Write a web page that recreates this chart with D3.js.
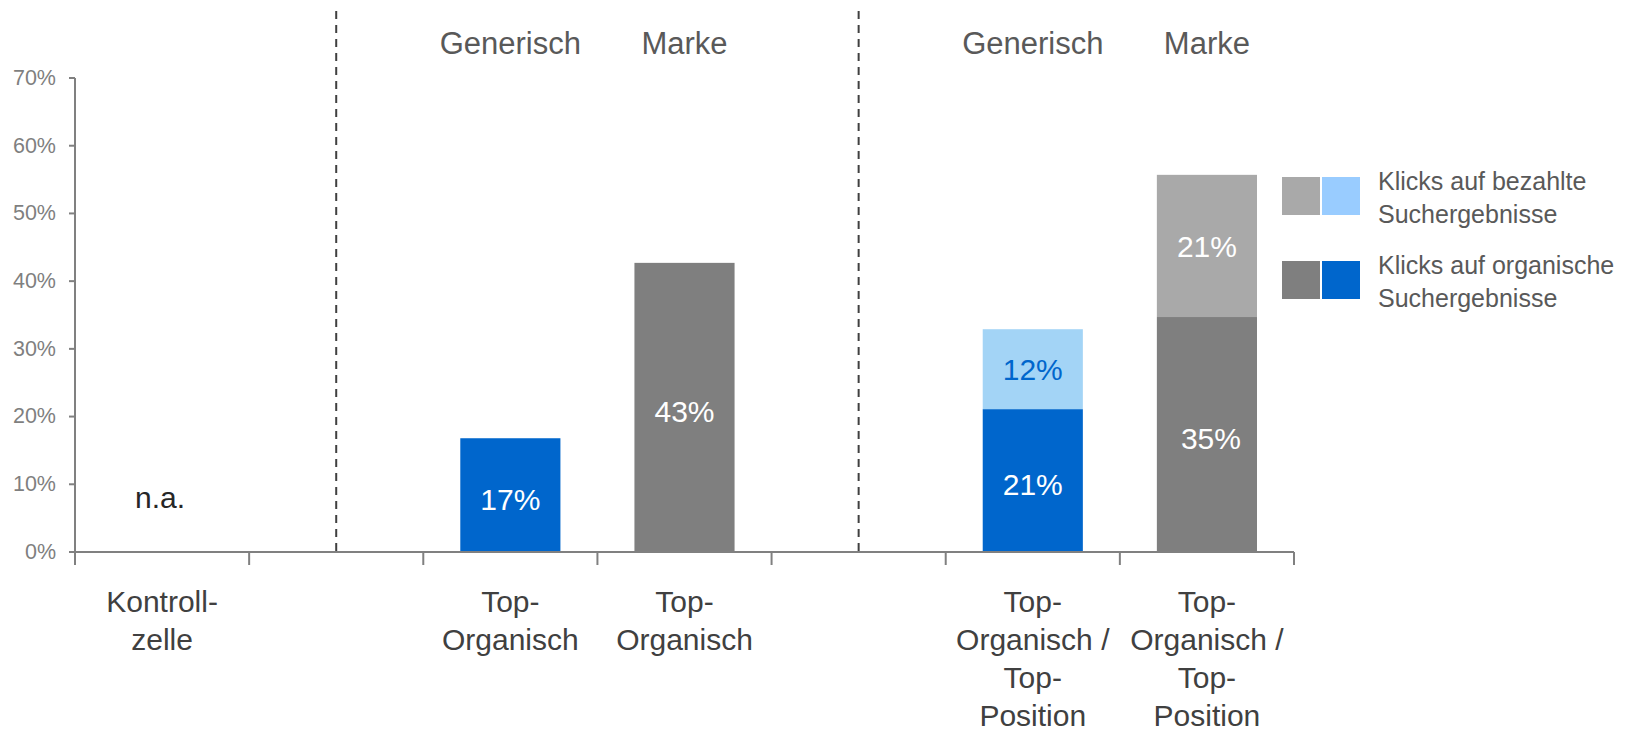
<!DOCTYPE html>
<html>
<head>
<meta charset="utf-8">
<script src="https://cdn.jsdelivr.net/npm/d3@7"></script>
<style>
  body { margin: 0; background: #fff; }
  svg text { font-family: "Liberation Sans", Arial, sans-serif; }
</style>
</head>
<body>
<svg id="chart" width="1633" height="734"></svg>
<script>
// data
var categories = ["kontrolle", "leer1", "gen1", "marke1", "leer2", "gen2", "marke2"];
var catLabels = [["Kontroll-", "zelle"], [], ["Top-", "Organisch"], ["Top-", "Organisch"], [],
  ["Top-", "Organisch /", "Top-", "Position"], ["Top-", "Organisch /", "Top-", "Position"]];
var headerLabels = ["", "", "Generisch", "Marke", "", "Generisch", "Marke"];
var barType = ["", "", "generisch", "marke", "", "generisch", "marke"];
var organisch = [null, null, 16.8, 42.7, null, 21.1, 34.7];
var bezahlt = [null, null, 0, 0, null, 11.8, 21.0];
var naCategory = "kontrolle";
var dividerCats = ["leer1", "leer2"];
var yTicks = [0, 10, 20, 30, 40, 50, 60, 70];
var legendLabels = [["Klicks auf bezahlte", "Suchergebnisse"], ["Klicks auf organische", "Suchergebnisse"]];

var colors = {
  generisch: { organisch: "#0066cc", bezahlt: "#a3d4f6", labelOrg: "#fff", labelBez: "#0066cc" },
  marke: { organisch: "#7f7f7f", bezahlt: "#a9a9a9", labelOrg: "#fff", labelBez: "#fff" }
};
var legendColors = [["#a9a9a9", "#99ccff"], ["#7f7f7f", "#0066cc"]];

var svg = d3.select("#chart");
var plotLeft = 75, plotRight = 1294, plotTop = 78, plotBottom = 552;

// scales
var x = d3.scaleBand().domain(categories).range([plotLeft, plotRight]).padding(0);
var xEdge = d3.scaleLinear().domain([0, categories.length]).range([plotLeft, plotRight]);
var y = d3.scaleLinear().domain([0, 70]).range([plotBottom, plotTop]);
var barW = x.bandwidth() * 0.575;

// dashed group dividers
svg.selectAll(".divider")
  .data(dividerCats)
  .enter().append("line")
  .attr("x1", function(d) { return x(d) + x.bandwidth() / 2; })
  .attr("x2", function(d) { return x(d) + x.bandwidth() / 2; })
  .attr("y1", 11)
  .attr("y2", plotBottom)
  .attr("stroke", "#404040")
  .attr("stroke-width", 2)
  .attr("stroke-dasharray", "8,6");

// build stacked rows
var rows = categories.map(function(c, i) {
  return { cat: c, type: barType[i], org: organisch[i], bez: bezahlt[i] };
}).filter(function(d) { return d.org != null; });

var bars = svg.append("g");
rows.forEach(function(d) {
  var cx = x(d.cat) + x.bandwidth() / 2;
  var col = colors[d.type];
  bars.append("rect")
    .attr("x", cx - barW / 2)
    .attr("width", barW)
    .attr("y", y(d.org))
    .attr("height", y(0) - y(d.org))
    .attr("fill", col.organisch);
  // organic labels sit a little below the segment centre
  bars.append("text")
    .attr("x", cx + (d.type == "marke" && d.bez > 0 ? 4 : 0))
    .attr("y", (y(0) + y(d.org)) / 2 + 4)
    .attr("dy", "0.36em")
    .attr("text-anchor", "middle")
    .attr("fill", col.labelOrg)
    .style("font-size", "30px")
    .text(Math.round(d.org) + "%");
  if (d.bez > 0) {
    bars.append("rect")
      .attr("x", cx - barW / 2)
      .attr("width", barW)
      .attr("y", y(d.org + d.bez))
      .attr("height", y(d.org) - y(d.org + d.bez))
      .attr("fill", col.bezahlt);
    bars.append("text")
      .attr("x", cx)
      .attr("y", (y(d.org) + y(d.org + d.bez)) / 2)
      .attr("dy", "0.36em")
      .attr("text-anchor", "middle")
      .attr("fill", col.labelBez)
      .style("font-size", "30px")
      .text(Math.round(d.bez) + "%");
  }
});

// n.a. label
svg.append("text")
  .attr("x", x(naCategory) + x.bandwidth() / 2 - 2)
  .attr("y", 508)
  .attr("text-anchor", "middle")
  .attr("fill", "#262626")
  .style("font-size", "30px")
  .text("n.a.");

// y axis
var yAxis = svg.append("g")
  .attr("transform", "translate(" + plotLeft + ",0)")
  .call(d3.axisLeft(y).tickValues(yTicks).tickFormat(function(d) { return d + "%"; })
    .tickSize(6).tickSizeOuter(0).tickPadding(13).offset(0));
yAxis.selectAll("path, line").attr("stroke", "#808080").attr("stroke-width", 2);
yAxis.selectAll("text").attr("fill", "#7f7f7f").style("font-size", "21.5px")
  .style("font-family", "'Liberation Sans', Arial, sans-serif");

// x axis, ticks on the band edges
var xAxis = svg.append("g")
  .attr("transform", "translate(0," + plotBottom + ")")
  .call(d3.axisBottom(xEdge).tickValues(d3.range(categories.length + 1)).tickFormat("")
    .tickSize(13).tickSizeOuter(0).offset(0));
xAxis.selectAll("path, line").attr("stroke", "#808080").attr("stroke-width", 2);

// category labels
categories.forEach(function(c, i) {
  var t = svg.append("text")
    .attr("text-anchor", "middle")
    .attr("fill", "#404040")
    .style("font-size", "30px");
  catLabels[i].forEach(function(line, j) {
    t.append("tspan")
      .attr("x", x(c) + x.bandwidth() / 2)
      .attr("y", 612 + j * 38)
      .text(line);
  });
  if (headerLabels[i]) {
    svg.append("text")
      .attr("x", x(c) + x.bandwidth() / 2)
      .attr("y", 54)
      .attr("text-anchor", "middle")
      .attr("fill", "#595959")
      .style("font-size", "31px")
      .text(headerLabels[i]);
  }
});

// legend
var legend = svg.append("g");
legendLabels.forEach(function(lines, i) {
  var ly = 177 + i * 84;
  legend.append("rect").attr("x", 1282).attr("y", ly).attr("width", 38).attr("height", 38)
    .attr("fill", legendColors[i][0]);
  legend.append("rect").attr("x", 1322).attr("y", ly).attr("width", 38).attr("height", 38)
    .attr("fill", legendColors[i][1]);
  var t = legend.append("text").attr("fill", "#595959").style("font-size", "25px");
  lines.forEach(function(line, j) {
    t.append("tspan").attr("x", 1378).attr("y", ly + 13 + j * 33).text(line);
  });
});
</script>
</body>
</html>
